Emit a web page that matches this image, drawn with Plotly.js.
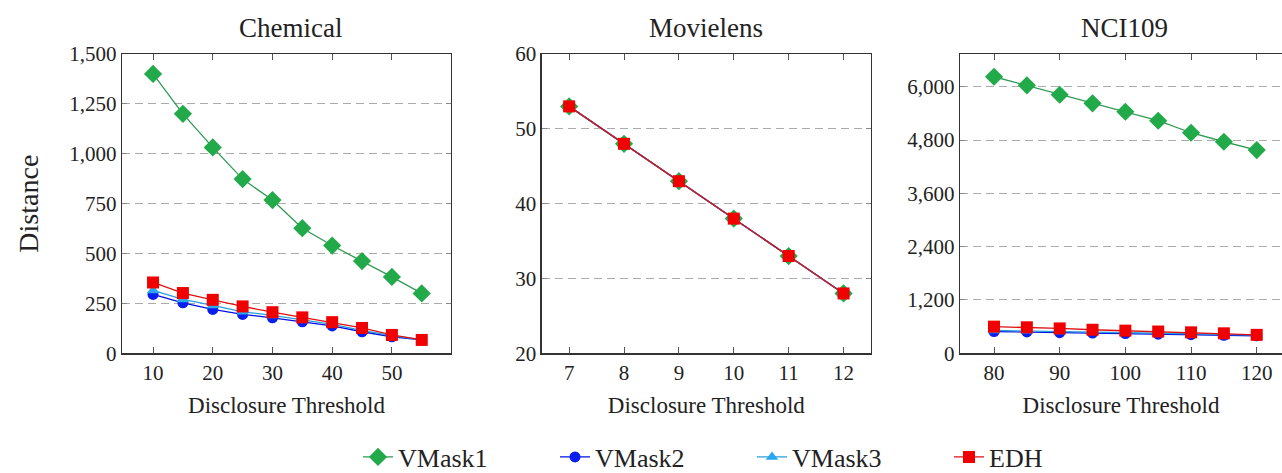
<!DOCTYPE html>
<html>
<head>
<meta charset="utf-8">
<script src="https://cdn.plot.ly/plotly-3.0.1.min.js"></script>
<style>html,body{margin:0;padding:0;background:#fff;}#chart{width:1282px;height:473px;}</style>
</head>
<body>
<div id="chart"></div>
<script>
// ---- data ----
const seriesNames = ["VMask1", "VMask2", "VMask3", "EDH"];
const panelTitles = ["Chemical", "Movielens", "NCI109"];

const chemX = [10, 15, 20, 25, 30, 35, 40, 45, 50, 55];
const chemVMask1 = [1400, 1200, 1032, 873, 768, 627, 540, 462, 383, 300];
const chemVMask2 = [295, 253, 220, 195, 178, 158, 137, 108, 83, 67];
const chemVMask3 = [315, 270, 240, 208, 190, 168, 145, 115, 88, 68];
const chemEDH = [355, 302, 268, 235, 206, 180, 156, 127, 92, 67];

const movieX = [7, 8, 9, 10, 11, 12];
const movieVMask1 = [53, 48, 43, 38, 33, 28];
const movieVMask2 = [53, 48, 43, 38, 33, 28];
const movieVMask3 = [53, 48, 43, 38, 33, 28];
const movieEDH = [53, 48, 43, 38, 33, 28];

const nciX = [80, 85, 90, 95, 100, 105, 110, 115, 120];
const nciVMask1 = [6224, 6030, 5819, 5625, 5436, 5234, 4964, 4761, 4574];
const nciVMask2 = [490, 480, 465, 455, 445, 430, 420, 405, 395];
const nciVMask3 = [515, 505, 490, 480, 465, 455, 440, 425, 410];
const nciEDH = [600, 585, 560, 530, 510, 490, 472, 450, 415];

// ---- styles ----
const FONT = "'Liberation Serif', serif";
const styles = [
  {line: "#2f9a52", marker: "#22aa4a", symbol: "diamond", size: 14},
  {line: "#0010e0", marker: "#0a1ef0", symbol: "circle", size: 11},
  {line: "#2a9ee0", marker: "#29a8f0", symbol: "triangle-up", size: 11},
  {line: "#e01010", marker: "#f00000", symbol: "square", size: 12}
];

const panels = [
  {x: chemX, ys: [chemVMask1, chemVMask2, chemVMask3, chemEDH]},
  {x: movieX, ys: [movieVMask1, movieVMask2, movieVMask3, movieEDH]},
  {x: nciX, ys: [nciVMask1, nciVMask2, nciVMask3, nciEDH]}
];

const traces = [];
panels.forEach((p, pi) => {
  p.ys.forEach((y, si) => {
    const st = styles[si];
    traces.push({
      type: "scatter", mode: "lines+markers",
      x: p.x, y: y, name: seriesNames[si],
      xaxis: pi === 0 ? "x" : "x" + (pi + 1),
      yaxis: pi === 0 ? "y" : "y" + (pi + 1),
      showlegend: pi === 0, cliponaxis: false,
      line: {color: st.line, width: 1.3},
      marker: {color: st.marker, symbol: st.symbol, size: st.size, line: {width: 0}}
    });
  });
});

const W = 1282, H = 473;
const yDom = [(H - 353.3) / H, (H - 54) / H];
const xDoms = [[122 / W, 451 / W], [541.7 / W, 871 / W], [960 / W, 1]];
const xRanges = [[4.8, 59.9], [6.5, 12.5], [74.82, 123.85]];
const yRanges = [[0, 1500], [20, 60], [0, 6736]];
const yDticks = [250, 10, 1200];
const xDticks = [10, 1, 10];
const titleCenters = [290, 706, 1124];

function xAxis(i) {
  return {
    domain: xDoms[i], range: xRanges[i], dtick: xDticks[i], tick0: 0,
    automargin: false,
    showgrid: false, zeroline: false,
    showline: true, linecolor: "#333", linewidth: 1.3, mirror: "ticks",
    ticks: "inside", ticklen: 6, tickwidth: 1, tickcolor: "#555",
    tickfont: {family: FONT, size: 21, color: "#222"},
    title: {text: "Disclosure Threshold", font: {family: FONT, size: 23, color: "#222"}, standoff: 13},
    anchor: i === 0 ? "y" : "y" + (i + 1)
  };
}
function yAxis(i) {
  return {
    domain: yDom, range: yRanges[i], dtick: yDticks[i], tick0: 0,
    automargin: false,
    tickformat: ",",
    showgrid: true, gridcolor: "#ababab", gridwidth: 1, griddash: "8px,5px",
    zeroline: false,
    showline: true, linecolor: "#333", linewidth: 1.3, mirror: i === 2 ? false : "ticks",
    ticks: "inside", ticklen: 5, tickwidth: 1, tickcolor: "#888",
    tickfont: {family: FONT, size: 21, color: "#222"},
    title: i === 0 ? {text: "Distance", font: {family: FONT, size: 28, color: "#222"}, standoff: 22} : {text: ""},
    anchor: i === 0 ? "x" : "x" + (i + 1)
  };
}

const annotations = panelTitles.map((t, i) => ({
  text: t, xref: "paper", yref: "paper",
  x: titleCenters[i] / W,
  y: (H - 28) / H, xanchor: "center", yanchor: "middle", showarrow: false,
  font: {family: FONT, size: 27, color: "#222"}
}));

const layout = {
  width: W, height: H, autosize: false,
  margin: {l: 0, r: 0, t: 0, b: 0, pad: 0, autoexpand: false},
  paper_bgcolor: "#fff", plot_bgcolor: "#fff",
  font: {family: FONT, color: "#222"},
  xaxis: xAxis(0), yaxis: yAxis(0),
  xaxis2: xAxis(1), yaxis2: yAxis(1),
  xaxis3: xAxis(2), yaxis3: yAxis(2),
  annotations: annotations,
  legend: {
    orientation: "h", x: 358 / W, xanchor: "left", y: (H - 457) / H, yanchor: "middle",
    font: {family: FONT, size: 26, color: "#222"},
    entrywidth: 152, entrywidthmode: "pixels", bgcolor: "rgba(0,0,0,0)", itemclick: false
  },
  showlegend: true
};

Plotly.newPlot("chart", traces, layout, {displayModeBar: false, staticPlot: true});
</script>
</body>
</html>
